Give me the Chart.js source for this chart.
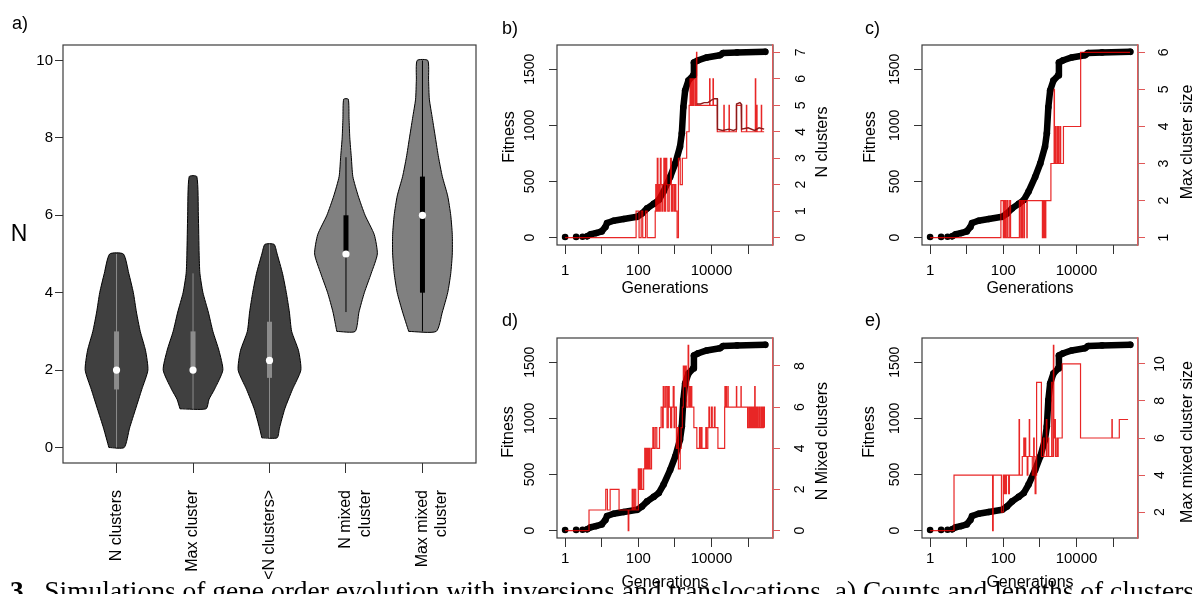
<!DOCTYPE html>
<html>
<head>
<meta charset="utf-8">
<title>Gene order evolution</title>
<script src="https://cdn.jsdelivr.net/npm/chart.js@4.4.1/dist/chart.umd.min.js"></script>
<style>
  body { margin: 0; background: #fff; }
  #page { position: relative; width: 1196px; height: 594px; overflow: hidden; background: #fff; font-family: "Liberation Sans", Arial, sans-serif; color: #000; }
  canvas { position: absolute; }
  .tag { position: absolute; font-size: 18px; line-height: 18px; }
  #caption { position: absolute; left: 10px; white-space: nowrap; font-family: "Liberation Serif", serif; line-height: 1; }
</style>
</head>
<body>
<div id="page">
  <canvas id="violin" width="486" height="594" style="left:0;top:0"></canvas>
  <canvas id="panelB" width="350" height="300" style="left:495px;top:0"></canvas>
  <canvas id="panelC" width="350" height="300" style="left:860px;top:0"></canvas>
  <canvas id="panelD" width="350" height="300" style="left:495px;top:293px"></canvas>
  <canvas id="panelE" width="350" height="300" style="left:860px;top:293px"></canvas>
  <div class="tag" style="left:12px;top:14px">a)</div>
  <div class="tag" style="left:502px;top:19px">b)</div>
  <div class="tag" style="left:865px;top:19px">c)</div>
  <div class="tag" style="left:502px;top:311px">d)</div>
  <div class="tag" style="left:865px;top:311px">e)</div>
  <div id="caption"><b>3.</b>&nbsp; Simulations of gene order evolution with inversions and translocations. a) Counts and lengths of clusters</div>
</div>
<script>
// ---- panel a: violins ----
const catLabels = ['N clusters', 'Max cluster', '<N clusters>', ['N mixed', 'cluster'], ['Max mixed', 'cluster']];
const nClustersY = [0, 0.5, 1, 1.5, 2, 2.5, 3, 3.5, 4, 4.5, 5];
const nClustersW = [0.10, 0.17, 0.25, 0.33, 0.41, 0.38, 0.31, 0.26, 0.22, 0.16, 0.09];
const maxClusterY = [1, 1.25, 1.5, 2, 2.5, 3, 3.5, 4, 4.5, 5, 6, 7];
const maxClusterW = [0.17, 0.21, 0.28, 0.39, 0.34, 0.26, 0.20, 0.13, 0.09, 0.08, 0.07, 0.05];
const meanClustersY = [0.25, 0.5, 1, 1.5, 2, 2.5, 3, 3.5, 4, 4.5, 5, 5.25];
const meanClustersW = [0.10, 0.13, 0.20, 0.30, 0.41, 0.38, 0.29, 0.26, 0.22, 0.17, 0.10, 0.06];
const nMixedY = [3, 3.5, 4, 4.5, 5, 5.5, 6, 6.5, 7, 7.5, 8, 8.5, 9];
const nMixedW = [0.12, 0.17, 0.24, 0.33, 0.41, 0.37, 0.25, 0.16, 0.09, 0.07, 0.05, 0.04, 0.03];
const maxMixedY = [3, 3.5, 4, 4.5, 5, 5.5, 6, 6.5, 7, 7.5, 8, 8.5, 9, 9.5, 10];
const maxMixedW = [0.18, 0.26, 0.33, 0.37, 0.39, 0.39, 0.37, 0.33, 0.26, 0.21, 0.17, 0.13, 0.09, 0.08, 0.07];
const medians = [2, 2, 2.25, 5, 6];
const q1 = [1.5, 2, 1.8, 5, 4];
const q3 = [3, 3, 3.25, 6, 7];
const whiskLo = [0, 1, 0.25, 3.5, 3];
const whiskHi = [5, 4.5, 5.25, 7.5, 10];
const nTicks = [0, 2, 4, 6, 8, 10];

// ---- panels b-e: fitness (shared) ----
const genTicks = [1, 10, 100, 1000, 10000, 100000];
const genLabels = ['1', '', '100', '', '10000', ''];
const fitTicks = [0, 500, 1000, 1500];
const fitGen = [1, 2, 3, 4, 5, 7, 10, 12.6, 14, 21, 40, 93, 126, 174, 263, 363, 490, 741, 1023, 1380, 1549, 1698, 1905, 2344, 3162, 3311, 4365, 7413, 16982, 20893, 50119, 295000];
const fitValue = [5, 6, 8, 12, 30, 40, 55, 95, 130, 150, 165, 185, 215, 260, 300, 335, 410, 540, 660, 810, 930, 1160, 1310, 1400, 1445, 1560, 1580, 1605, 1625, 1645, 1650, 1655];

// b) N clusters
const nClGen = [1, 87, 105, 120, 132, 158, 175, 290, 300, 310, 330, 345, 360, 380, 400, 420, 440, 470, 500, 520, 560, 600, 640, 700, 760, 800, 860, 940, 1000, 1060, 1150, 1250, 1400, 1600, 2100, 2450, 2600, 2700, 2800, 3000, 3200, 3500, 3700, 3900, 3980, 8900, 9100, 11000, 11300, 14400, 21800, 22300, 30200, 30800, 47800, 66000, 90000, 92000, 158000, 162000, 172000, 176000, 230000, 235000, 275000];
const nClVal = [0, 1, 0, 1, 0, 1, 0, 1, 2, 1, 3, 1, 2, 1, 3, 2, 1, 2, 3, 1, 3, 2, 1, 2, 3, 1, 2, 1, 2, 1, 0, 3, 2, 3, 4, 5, 6, 5, 6, 5, 6, 5, 6, 7, 5, 6, 5, 6, 5, 4, 5, 4, 5, 4, 5, 4, 5, 4, 6, 4, 5, 4, 5, 4, 4];
const meanClGen = [3981, 5000, 6300, 8000, 9000, 10000, 12000, 14400, 14600, 20000, 30000, 40000, 47800, 48500, 60000, 65000, 66500, 100000, 150000, 200000, 275000];
const meanClVal = [5.05, 5.05, 5.1, 5.1, 5.15, 5.2, 5.25, 5.25, 4.1, 4.05, 4.1, 4.05, 4.1, 5.05, 5.1, 5.05, 4.1, 4.15, 4.05, 4.15, 4.1];

// c) Max cluster size
const maxClGen = [1, 86, 100, 106, 114, 124, 134, 150, 158, 275, 300, 306, 330, 340, 370, 380, 440, 450, 1170, 1220, 1290, 1350, 1400, 1450, 2000, 2450, 2500, 2650, 2750, 3000, 3200, 3500, 3700, 4400, 13000, 290000];
const maxClVal = [1, 2, 1, 2, 1, 2, 1, 2, 1, 2, 1, 2, 1, 2, 1, 2, 1, 2, 1, 2, 1, 2, 1, 2, 3, 5, 3, 4, 3, 4, 3, 4, 3, 4, 6, 6];

// d) N mixed clusters
const nMixGen = [1, 4.5, 12.9, 14.3, 17, 29.8, 53, 55, 68, 72, 78, 85, 100, 108, 116, 125, 140, 150, 160, 172, 182, 195, 210, 230, 250, 265, 290, 320, 380, 420, 460, 480, 510, 560, 610, 660, 700, 760, 820, 900, 950, 1000, 1100, 1150, 1250, 1400, 1480, 1600, 1700, 1800, 1900, 2050, 2300, 2380, 2500, 2700, 2900, 3300, 3980, 4700, 4900, 5300, 5500, 7000, 7300, 7940, 8500, 8900, 10000, 10500, 12000, 12500, 15000, 22900, 23300, 23800, 25000, 25600, 28000, 28600, 48000, 49000, 64000, 65000, 97000, 105000, 110000, 118000, 125000, 135000, 145000, 152000, 156000, 168000, 180000, 195000, 210000, 228000, 245000, 262000, 280000];
const nMixVal = [0, 1, 2, 1, 2, 1, 0, 1, 2, 1, 2, 1, 3, 2, 3, 2, 3, 4, 3, 4, 3, 4, 3, 4, 5, 4, 5, 4, 5, 6, 5, 7, 6, 7, 5, 7, 6, 5, 6, 7, 5, 6, 4, 5, 3, 4, 5, 6, 8, 7, 8, 6, 9, 7, 6, 7, 6, 5, 4, 5, 4, 5, 4, 5, 4, 5, 6, 5, 6, 5, 6, 5, 4, 6, 7, 6, 7, 6, 7, 6, 7, 6, 7, 6, 5, 6, 5, 6, 5, 6, 5, 7, 5, 6, 5, 6, 5, 6, 5, 6, 5];

// e) Max mixed cluster size
const maxMixGen = [1, 4.5, 51, 53, 89, 100, 105, 110, 118, 122, 140, 147, 270, 277, 330, 363, 372, 398, 410, 450, 470, 513, 525, 620, 676, 700, 741, 780, 813, 1100, 1250, 1300, 1500, 1550, 1700, 1750, 2100, 2150, 2340, 2400, 2550, 2650, 2900, 3000, 3160, 4070, 12900, 93000, 95000, 148000, 257000];
const maxMixVal = [1, 4, 1, 4, 2, 4, 3, 4, 3, 4, 3, 4, 7, 4, 5, 6, 5, 6, 5, 4, 5, 7, 5, 4, 6, 5, 3, 4, 9, 5, 6, 5, 7, 5, 6, 5, 9, 5, 11, 6, 7, 5, 6, 5, 6, 10, 6, 7, 6, 7, 7];

const red = 'rgba(228,0,0,0.85)';
const redAxis = '#e05858';
const darkRed = '#8b1a1a';

Chart.defaults.font.family = '"Liberation Sans", Arial, sans-serif';
Chart.defaults.color = '#000';

function xyPoints(xs, ys) {
  return xs.map((x, i) => ({ x: x, y: ys[i] }));
}

function fixTicks(values) {
  return function (scale) {
    scale.ticks = values.map(v => ({ value: v }));
  };
}

// box round the plot region, drawn before the axes so the red axis stays on top
const frame = {
  id: 'frame',
  beforeDraw(chart) {
    const a = chart.chartArea;
    const ctx = chart.ctx;
    ctx.save();
    ctx.strokeStyle = '#3c3c3c';
    ctx.lineWidth = 1.2;
    ctx.strokeRect(a.left, a.top, a.right - a.left, a.bottom - a.top);
    ctx.restore();
  }
};

// axis titles placed like the R figure (right ones read bottom to top)
const sideText = {
  id: 'sideText',
  afterDraw(chart, args, opts) {
    const a = chart.chartArea;
    const ctx = chart.ctx;
    (opts.items || []).forEach(t => {
      ctx.save();
      ctx.font = (t.size || 16) + 'px "Liberation Sans", Arial, sans-serif';
      ctx.fillStyle = '#000';
      ctx.textAlign = 'center';
      ctx.textBaseline = 'middle';
      const x = t.side === 'right' ? a.right + t.dx : a.left + t.dx;
      ctx.translate(x, (a.top + a.bottom) / 2 + (t.dy || 0));
      if (t.rotate !== false) ctx.rotate(-Math.PI / 2);
      ctx.fillText(t.text, 0, 0);
      ctx.restore();
    });
  }
};

function violinPoints(center, levels, widths) {
  const left = levels.map((y, i) => ({ x: center - widths[i], y: y }));
  const right = levels.map((y, i) => ({ x: center + widths[i], y: y })).reverse();
  return left.concat(right, [left[0]]);
}

// ---- build panel a ----
const violinShapes = [[nClustersY, nClustersW], [maxClusterY, maxClusterW], [meanClustersY, meanClustersW], [nMixedY, nMixedW], [maxMixedY, maxMixedW]];
const violinFill = ['#404040', '#404040', '#404040', '#808080', '#808080'];
const boxColor = ['#8c8c8c', '#8c8c8c', '#8c8c8c', '#000', '#000'];
const violinSets = [];
violinShapes.forEach((s, i) => {
  const c = i + 1;
  violinSets.push({ data: violinPoints(c, s[0], s[1]), showLine: true, fill: 'shape', tension: 0.2,
    backgroundColor: violinFill[i], borderColor: '#000', borderWidth: 1, pointRadius: 0, order: 4 });
  violinSets.push({ data: [{ x: c, y: whiskLo[i] }, { x: c, y: whiskHi[i] }], showLine: true,
    borderColor: boxColor[i], borderWidth: 1, pointRadius: 0, order: 3 });
  violinSets.push({ data: [{ x: c, y: q1[i] }, { x: c, y: q3[i] }], showLine: true,
    borderColor: boxColor[i], borderWidth: 5, borderCapStyle: 'butt', pointRadius: 0, order: 2 });
  violinSets.push({ data: [{ x: c, y: medians[i] }], showLine: false,
    pointRadius: 3.6, pointBackgroundColor: '#fff', pointBorderWidth: 0, order: 1 });
});

new Chart(document.getElementById('violin'), {
  type: 'scatter',
  data: { datasets: violinSets },
  plugins: [frame, sideText],
  options: {
    responsive: false, animation: false, devicePixelRatio: 1,
    layout: { padding: { top: 45, right: 10, left: 0, bottom: 0 } },
    plugins: {
      legend: { display: false }, tooltip: { enabled: false },
      sideText: { items: [{ text: 'N', side: 'left', dx: -44, dy: -19, size: 23, rotate: false }] }
    },
    scales: {
      x: {
        type: 'linear', min: 0.3, max: 5.7,
        afterBuildTicks: fixTicks([1, 2, 3, 4, 5]),
        afterFit: s => { s.height = 131; },
        ticks: { autoSkip: false, minRotation: 90, maxRotation: 90, padding: 17, font: { size: 16 },
          callback: v => catLabels[v - 1] },
        grid: { drawOnChartArea: false, tickLength: 10, color: '#333' },
        border: { display: false }
      },
      y: {
        min: -0.4, max: 10.4,
        afterBuildTicks: fixTicks(nTicks),
        afterFit: s => { s.width = 63; },
        ticks: { padding: 2, font: { size: 15 }, callback: v => String(v) },
        grid: { drawOnChartArea: false, tickLength: 8, color: '#333' },
        border: { display: false }
      }
    }
  }
});

// ---- build panels b-e ----
function tracePanel(id, p) {
  const datasets = [{
    data: xyPoints(fitGen, fitValue), yAxisID: 'y', showLine: true,
    borderColor: '#000', backgroundColor: '#000', borderWidth: 6.5, borderCapStyle: 'round', borderJoinStyle: 'round',
    pointRadius: 3.3, pointBackgroundColor: '#000', pointBorderWidth: 0,
    segment: { borderColor: c => (c.p0DataIndex < 3 ? 'rgba(0,0,0,0)' : '#000') },
    order: 3
  }, {
    data: xyPoints(p.gen, p.val), yAxisID: 'y2', showLine: true, stepped: true,
    borderColor: red, borderWidth: 1.2, pointRadius: 0, order: 2
  }];
  if (p.meanGen) {
    datasets.push({ data: xyPoints(p.meanGen, p.meanVal), yAxisID: 'y2', showLine: true,
      borderColor: darkRed, borderWidth: 1.4, pointRadius: 0, order: 1 });
  }
  new Chart(document.getElementById(id), {
    type: 'scatter',
    data: { datasets: datasets },
    plugins: [frame, sideText],
    options: {
      responsive: false, animation: false, devicePixelRatio: 1,
      layout: { padding: { top: 45, right: 0, left: 0, bottom: 0 } },
      plugins: {
        legend: { display: false }, tooltip: { enabled: false },
        sideText: { items: [
          { text: 'Fitness', side: 'left', dx: p.fitDx, dy: p.fitDy },
          { text: p.rightTitle, side: 'right', dx: 50, dy: p.rightDy }
        ] }
      },
      scales: {
        x: {
          type: 'logarithmic', min: 0.62, max: 480000,
          afterBuildTicks: fixTicks(genTicks),
          afterFit: s => { s.height = 55; },
          ticks: { autoSkip: false, minRotation: 0, maxRotation: 0, padding: p.xPad, font: { size: 15 },
            callback: v => genLabels[genTicks.indexOf(v)] },
          grid: { drawOnChartArea: false, tickLength: 9, color: '#333' },
          border: { display: false },
          title: { display: true, text: 'Generations', font: { size: 16 }, padding: { top: 0, bottom: p.titlePad } }
        },
        y: {
          position: 'left', min: -66, max: 1716,
          afterBuildTicks: fixTicks(fitTicks),
          afterFit: s => { s.width = 62; },
          ticks: { minRotation: 90, maxRotation: 90, crossAlign: 'center', padding: 3.4, font: { size: 14 },
            callback: v => String(v) },
          grid: { drawOnChartArea: false, tickLength: 8, color: '#333' },
          border: { display: false }
        },
        y2: {
          position: 'right', min: p.min, max: p.max,
          afterBuildTicks: fixTicks(p.ticks),
          afterFit: s => { s.width = 72; },
          ticks: { minRotation: 90, maxRotation: 90, crossAlign: 'center', padding: p.rPad, font: { size: 14 },
            callback: v => String(v) },
          grid: { drawOnChartArea: false, tickLength: 7, color: redAxis },
          border: { display: true, color: redAxis, width: 1.2 }
        }
      }
    }
  });
}

tracePanel('panelB', { gen: nClGen, val: nClVal, meanGen: meanClGen, meanVal: meanClVal,
  min: -0.28, max: 7.28, ticks: [0, 1, 2, 3, 4, 5, 6, 7], rightTitle: 'N clusters',
  rPad: 17, xPad: 7.5, titlePad: 2, fitDx: -47, fitDy: -8, rightDy: -3 });
tracePanel('panelC', { gen: maxClGen, val: maxClVal,
  min: 0.8, max: 6.2, ticks: [1, 2, 3, 4, 5, 6], rightTitle: 'Max cluster size',
  rPad: 15, xPad: 7.5, titlePad: 2, fitDx: -51, fitDy: -8, rightDy: -3 });
tracePanel('panelD', { gen: nMixGen, val: nMixVal,
  min: -0.36, max: 9.36, ticks: [0, 2, 4, 6, 8], rightTitle: 'N Mixed clusters',
  rPad: 16, xPad: 2.5, titlePad: 0.5, fitDx: -48, fitDy: -6, rightDy: 3 });
tracePanel('panelE', { gen: maxMixGen, val: maxMixVal,
  min: 0.6, max: 11.4, ticks: [2, 4, 6, 8, 10], rightTitle: 'Max mixed cluster size',
  rPad: 7.7, xPad: 2.5, titlePad: 0.5, fitDx: -52, fitDy: -6, rightDy: 4 });

// caption line, cut off by the bottom edge as in the source page
const cap = document.getElementById('caption');
cap.style.fontSize = '100px';
const capSize = 100 * (1194 - 10) / cap.scrollWidth;
cap.style.fontSize = capSize + 'px';
cap.style.top = (583 - 0.1755 * capSize) + 'px';
</script>
</body>
</html>
